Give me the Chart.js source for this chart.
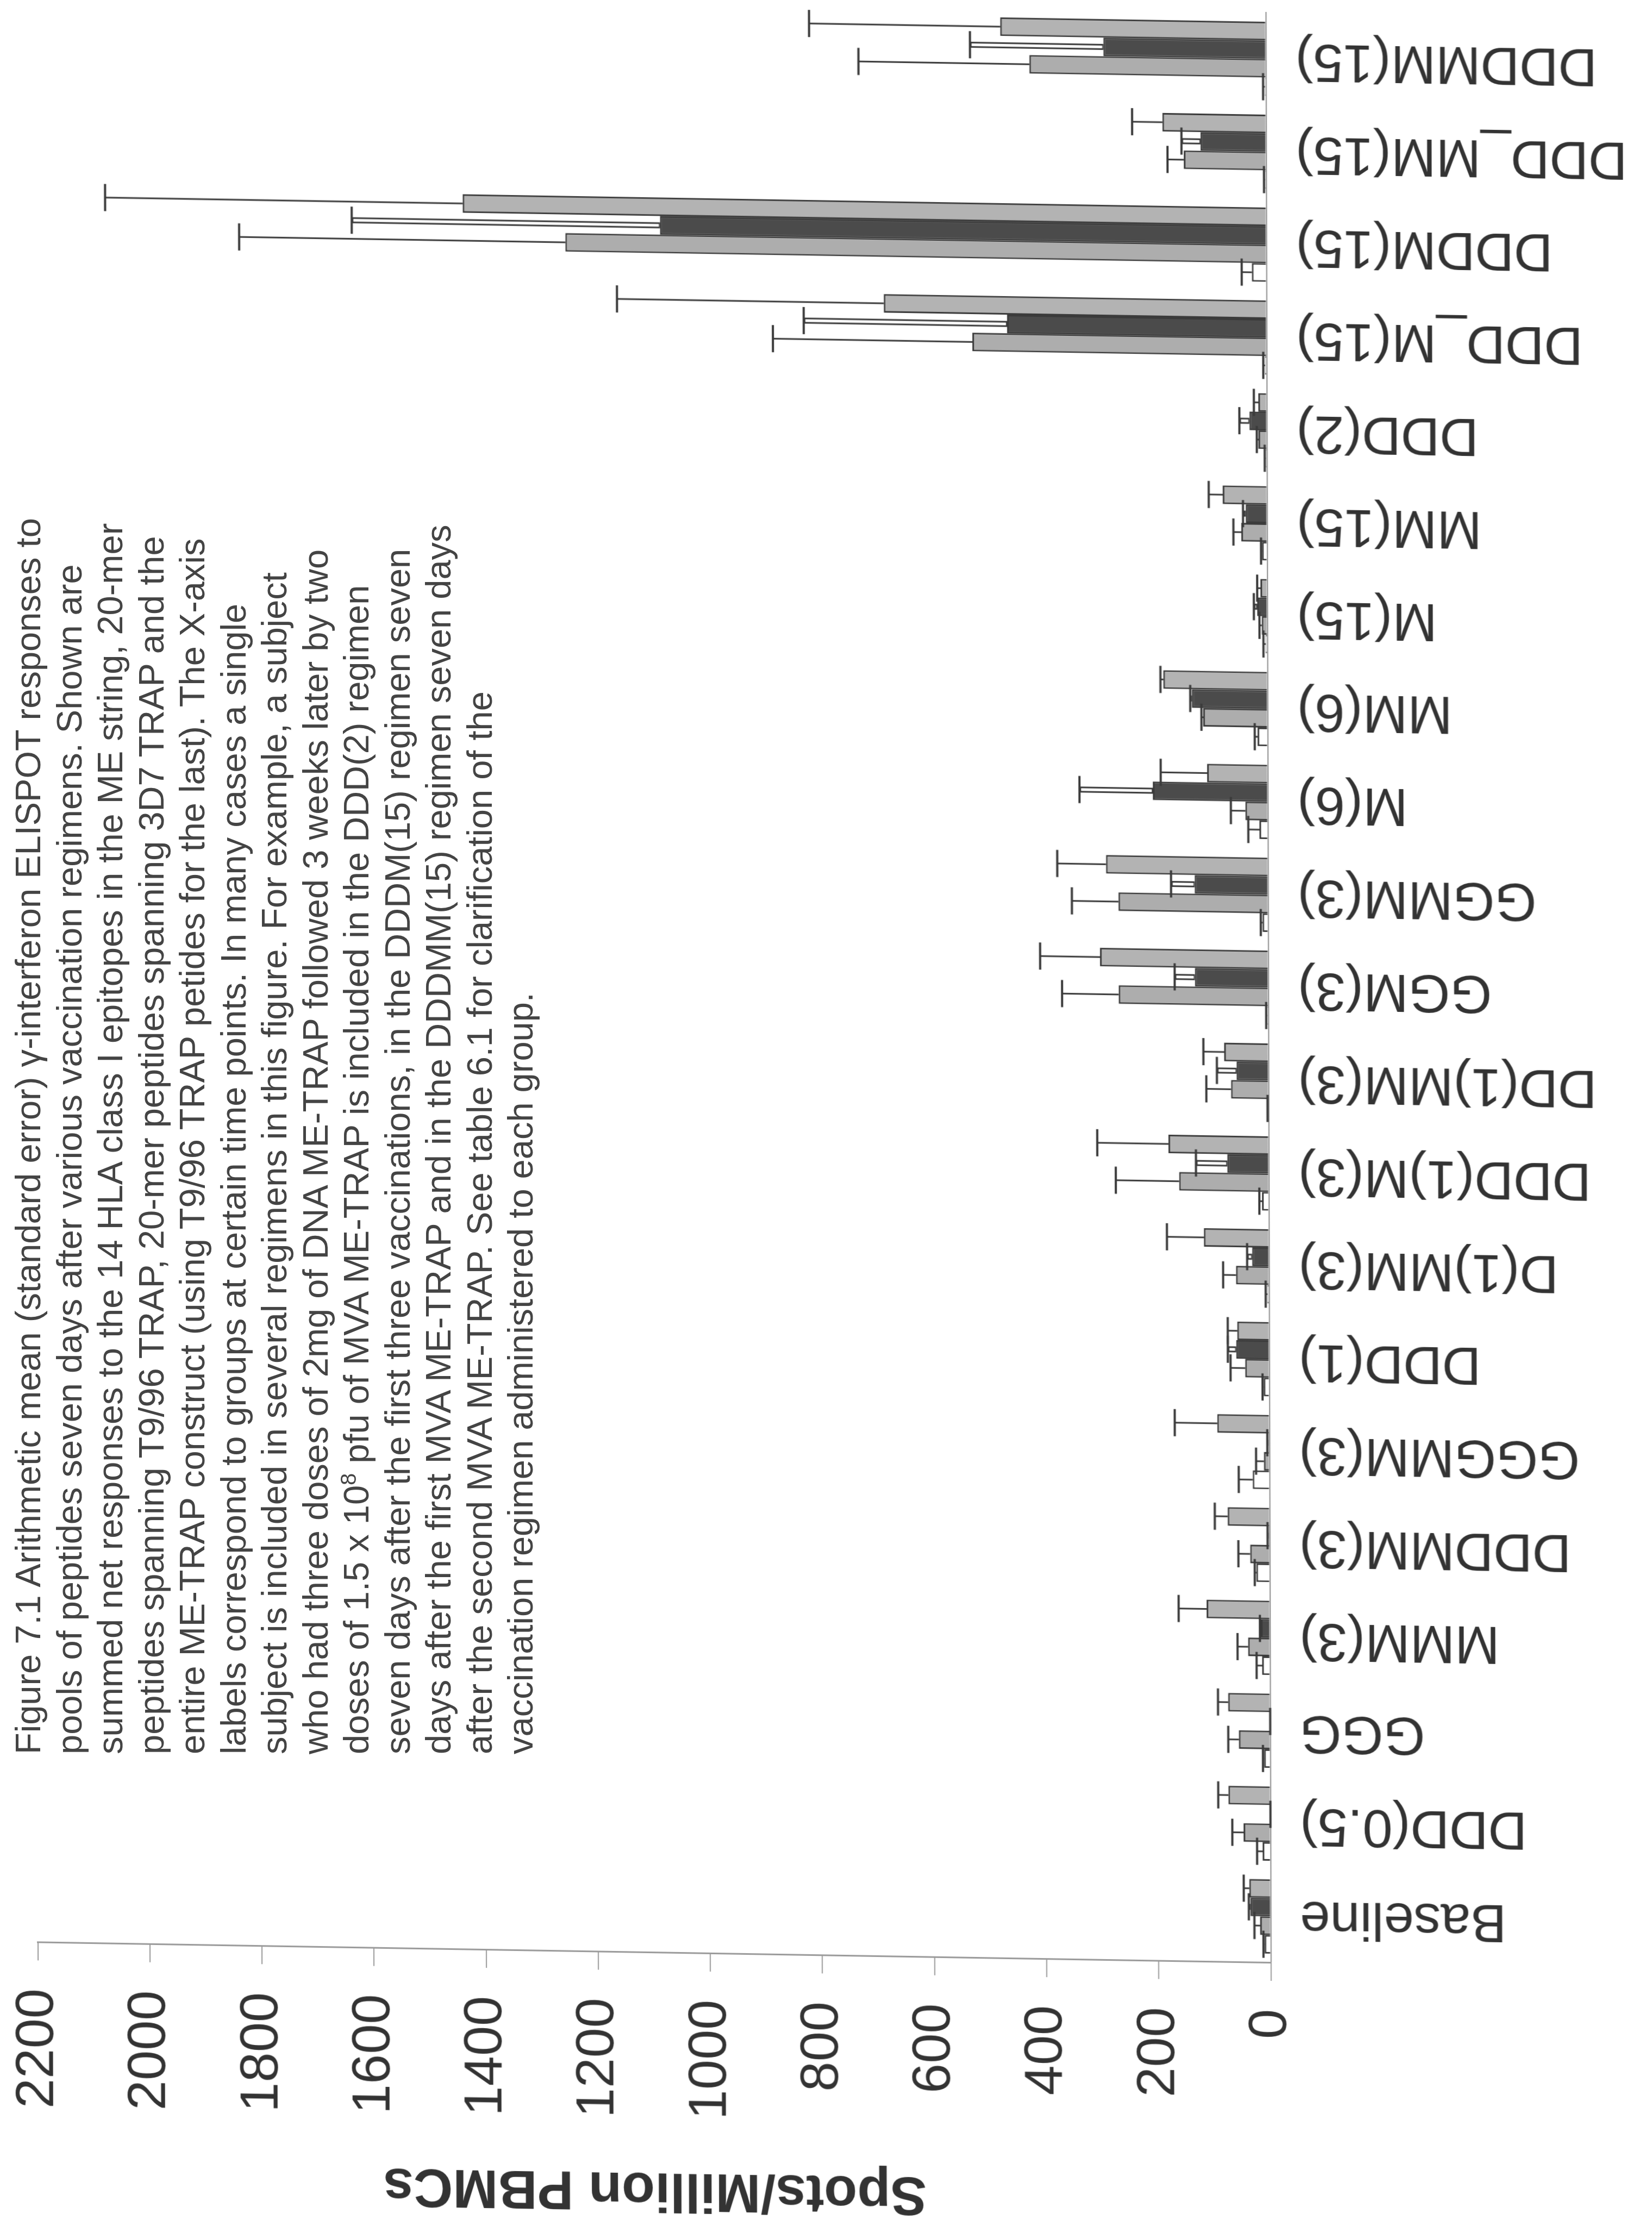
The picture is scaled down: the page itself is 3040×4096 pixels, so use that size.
<!DOCTYPE html>
<html>
<head>
<meta charset="utf-8">
<script src="https://cdn.jsdelivr.net/npm/chart.js@4.4.1/dist/chart.umd.min.js"></script>
<style>
  html, body { margin: 0; padding: 0; background: #fff; overflow: hidden; }
  body { width: 3040px; height: 4096px; position: relative; }
  #page {
    position: absolute; left: 0; top: 0; width: 3040px; height: 4096px;
    transform-origin: 2334.5px 2048px;
    transform: skewX(0.15deg) skewY(0.95deg);
  }
  #rot {
    position: absolute; left: -528px; top: 528px; width: 4096px; height: 3040px;
    transform-origin: 50% 50%; transform: rotate(-90deg);
  }
  #caption {
    position: absolute; left: 14px; top: 3228px;
    transform-origin: 0 0; transform: rotate(-90deg);
    white-space: pre; font-family: 'Liberation Sans', Arial, sans-serif;
    font-size: 65px; line-height: 75.5px; color: #444;
  }
  #caption sup { font-size: 40px; line-height: 0; }
</style>
</head>
<body>
<div id="page">
  <div id="rot"><canvas id="c" width="4096" height="3040"></canvas></div>
</div>
<div id="caption">Figure 7.1 Arithmetic mean (standard error) γ-interferon ELISPOT responses to
pools of peptides seven days after various vaccination regimens. Shown are
summed net responses to the 14 HLA class I epitopes in the ME string, 20-mer
peptides spanning T9/96 TRAP, 20-mer peptides spanning 3D7 TRAP and the
entire ME-TRAP construct (using T9/96 TRAP petides for the last). The X-axis
labels correspond to groups at certain time points. In many cases a single
subject is included in several regimens in this figure. For example, a subject
who had three doses of 2mg of DNA ME-TRAP followed 3 weeks later by two
doses of 1.5 x 10<sup>8</sup> pfu of MVA ME-TRAP is included in the DDD(2) regimen
seven days after the first three vaccinations, in the DDDM(15) regimen seven
days after the first MVA ME-TRAP and in the DDDMM(15) regimen seven days
after the second MVA ME-TRAP. See table 6.1 for clarification of the
vaccination regimen administered to each group.</div>
<script>
// Vaccination regimen groups (time point in brackets)
const categories = ['Baseline', 'DDD(0.5)', 'GGG', 'MMM(3)', 'DDDMM(3)', 'GGGMM(3)', 'DDD(1)',
  'D(1)MM(3)', 'DDD(1)M(3)', 'DD(1)MM(3)', 'GGM(3)', 'GGMM(3)', 'M(6)', 'MM(6)', 'M(15)',
  'MM(15)', 'DDD(2)', 'DDD_M(15)', 'DDDM(15)', 'DDD_MM(15)', 'DDDMM(15)'];

// Mean spots per million PBMCs and standard errors for each peptide pool
const meString      = [11, 14, 11, 14, 24, 30, 10, 3, 12, 1, 2, 10, 15, 18, 3, 9, 2, 3, 26, 2, 2];
const meStringErr   = [2, 10, 2, 10, 3, 25, 2, 3, 5, 1, 2, 3, 20, 5, 4, 2, 2, 3, 18, 2, 3];
const t996Trap      = [19, 48, 56, 39, 35, 10, 43, 59, 160, 67, 267, 267, 40, 115, 10, 46, 15, 525, 1251, 147, 422];
const t996TrapErr   = [10, 20, 19, 19, 21, 14, 26, 23, 113, 44, 101, 83, 26, 3, 4, 14, 3, 356, 582, 29, 305];
const trap3D7       = [36, 0, 0, 16, 2, 2, 59, 30, 74, 57, 131, 131, 205, 135, 18, 38, 31, 463, 1082, 117, 290];
const trap3D7Err    = [3, 0, 0, 2, 2, 2, 15, 9, 56, 35, 36, 42, 131, 3, 6, 5, 18, 363, 550, 34, 238];
const meTrap        = [38, 75, 75, 113, 75, 93, 57, 116, 179, 79, 300, 289, 108, 186, 12, 79, 15, 683, 1434, 185, 474];
const meTrapErr     = [10, 18, 18, 50, 23, 76, 17, 66, 127, 37, 107, 87, 83, 5, 6, 25, 8, 476, 638, 54, 341];

// Value axis
const axisMax = 2200;
const axisStep = 200;

const FONT = "'Liberation Sans', Arial, Helvetica, sans-serif";
const INK = '#333333';
const EDGE = '#3a3a3a';

// Plus-direction error bars with caps; the 3D7 series gets a hollow stem
const errorBars = {
  id: 'errorBars',
  afterDatasetsDraw(chart) {
    const ctx = chart.ctx;
    const ys = chart.scales.y;
    ctx.save();
    ctx.lineCap = 'butt';
    chart.data.datasets.forEach((ds, di) => {
      const meta = chart.getDatasetMeta(di);
      meta.data.forEach((bar, i) => {
        const v = ds.data[i];
        const e = ds.errors[i];
        if (e == null) return;
        const y0 = ys.getPixelForValue(v);
        const y1 = ys.getPixelForValue(v + e);
        const x = bar.x;
        if (ds.hollowError) {
          ctx.strokeStyle = EDGE;
          ctx.lineWidth = 11;
          ctx.beginPath(); ctx.moveTo(x, y0); ctx.lineTo(x, y1); ctx.stroke();
          ctx.strokeStyle = '#ffffff';
          ctx.lineWidth = 5;
          ctx.beginPath(); ctx.moveTo(x, y0 - 2); ctx.lineTo(x, Math.min(y0 - 2, y1 + 3)); ctx.stroke();
        } else {
          ctx.strokeStyle = EDGE;
          ctx.lineWidth = 3;
          ctx.beginPath(); ctx.moveTo(x, y0); ctx.lineTo(x, y1); ctx.stroke();
        }
        ctx.strokeStyle = EDGE;
        ctx.lineWidth = 4;
        ctx.beginPath(); ctx.moveTo(x - 25, y1); ctx.lineTo(x + 25, y1); ctx.stroke();
      });
    });
    ctx.restore();
  }
};

function series(label, data, errors, fill, hollow) {
  return {
    label, data, errors, hollowError: !!hollow,
    backgroundColor: fill, borderColor: EDGE, borderWidth: 3,
    categoryPercentage: 0.8, barPercentage: 1.0
  };
}

// Fixed axis box sizes; tick-label overhang padding is dropped so the plot area keeps its place
function fixBox(size, horizontal) {
  return (s) => {
    if (horizontal) s.height = size; else s.width = size;
    s.paddingTop = 0; s.paddingBottom = 0; s.paddingLeft = 0; s.paddingRight = 0;
  };
}

new Chart(document.getElementById('c'), {
  type: 'bar',
  data: {
    labels: categories,
    datasets: [
      series('ME string', meString, meStringErr, '#ffffff'),
      series('T9/96 TRAP', t996Trap, t996TrapErr, '#adadad'),
      series('3D7 TRAP', trap3D7, trap3D7Err, '#4b4b4b', true),
      series('ME-TRAP', meTrap, meTrapErr, '#b3b3b3')
    ]
  },
  options: {
    responsive: false,
    animation: false,
    devicePixelRatio: 1,
    layout: { padding: { top: 65.7, right: 23, bottom: 0, left: 0 } },
    plugins: { legend: { display: false }, tooltip: { enabled: false } },
    scales: {
      x: {
        grid: { display: true, drawOnChartArea: false, drawTicks: false },
        border: { display: true, color: '#8c8c8c', width: 2 },
        ticks: {
          autoSkip: false, minRotation: 90, maxRotation: 90, padding: 54,
          color: INK, font: { family: FONT, size: 99 }
        },
        afterFit: fixBox(705.5, true)
      },
      y: {
        min: 0, max: axisMax,
        grid: { drawOnChartArea: false, drawTicks: true, tickLength: 33, color: '#9a9a9a', lineWidth: 2 },
        border: { display: true, color: '#9a9a9a', width: 3 },
        ticks: {
          stepSize: axisStep, padding: 52, color: INK, font: { family: FONT, size: 99 },
          callback: (v) => String(v)
        },
        title: {
          display: true, text: 'Spots/Million PBMCs', color: INK, padding: 0,
          font: { family: FONT, size: 100, weight: 'bold', lineHeight: 1 }
        },
        afterFit: fixBox(484, false)
      }
    }
  },
  plugins: [errorBars]
});
</script>
</body>
</html>
